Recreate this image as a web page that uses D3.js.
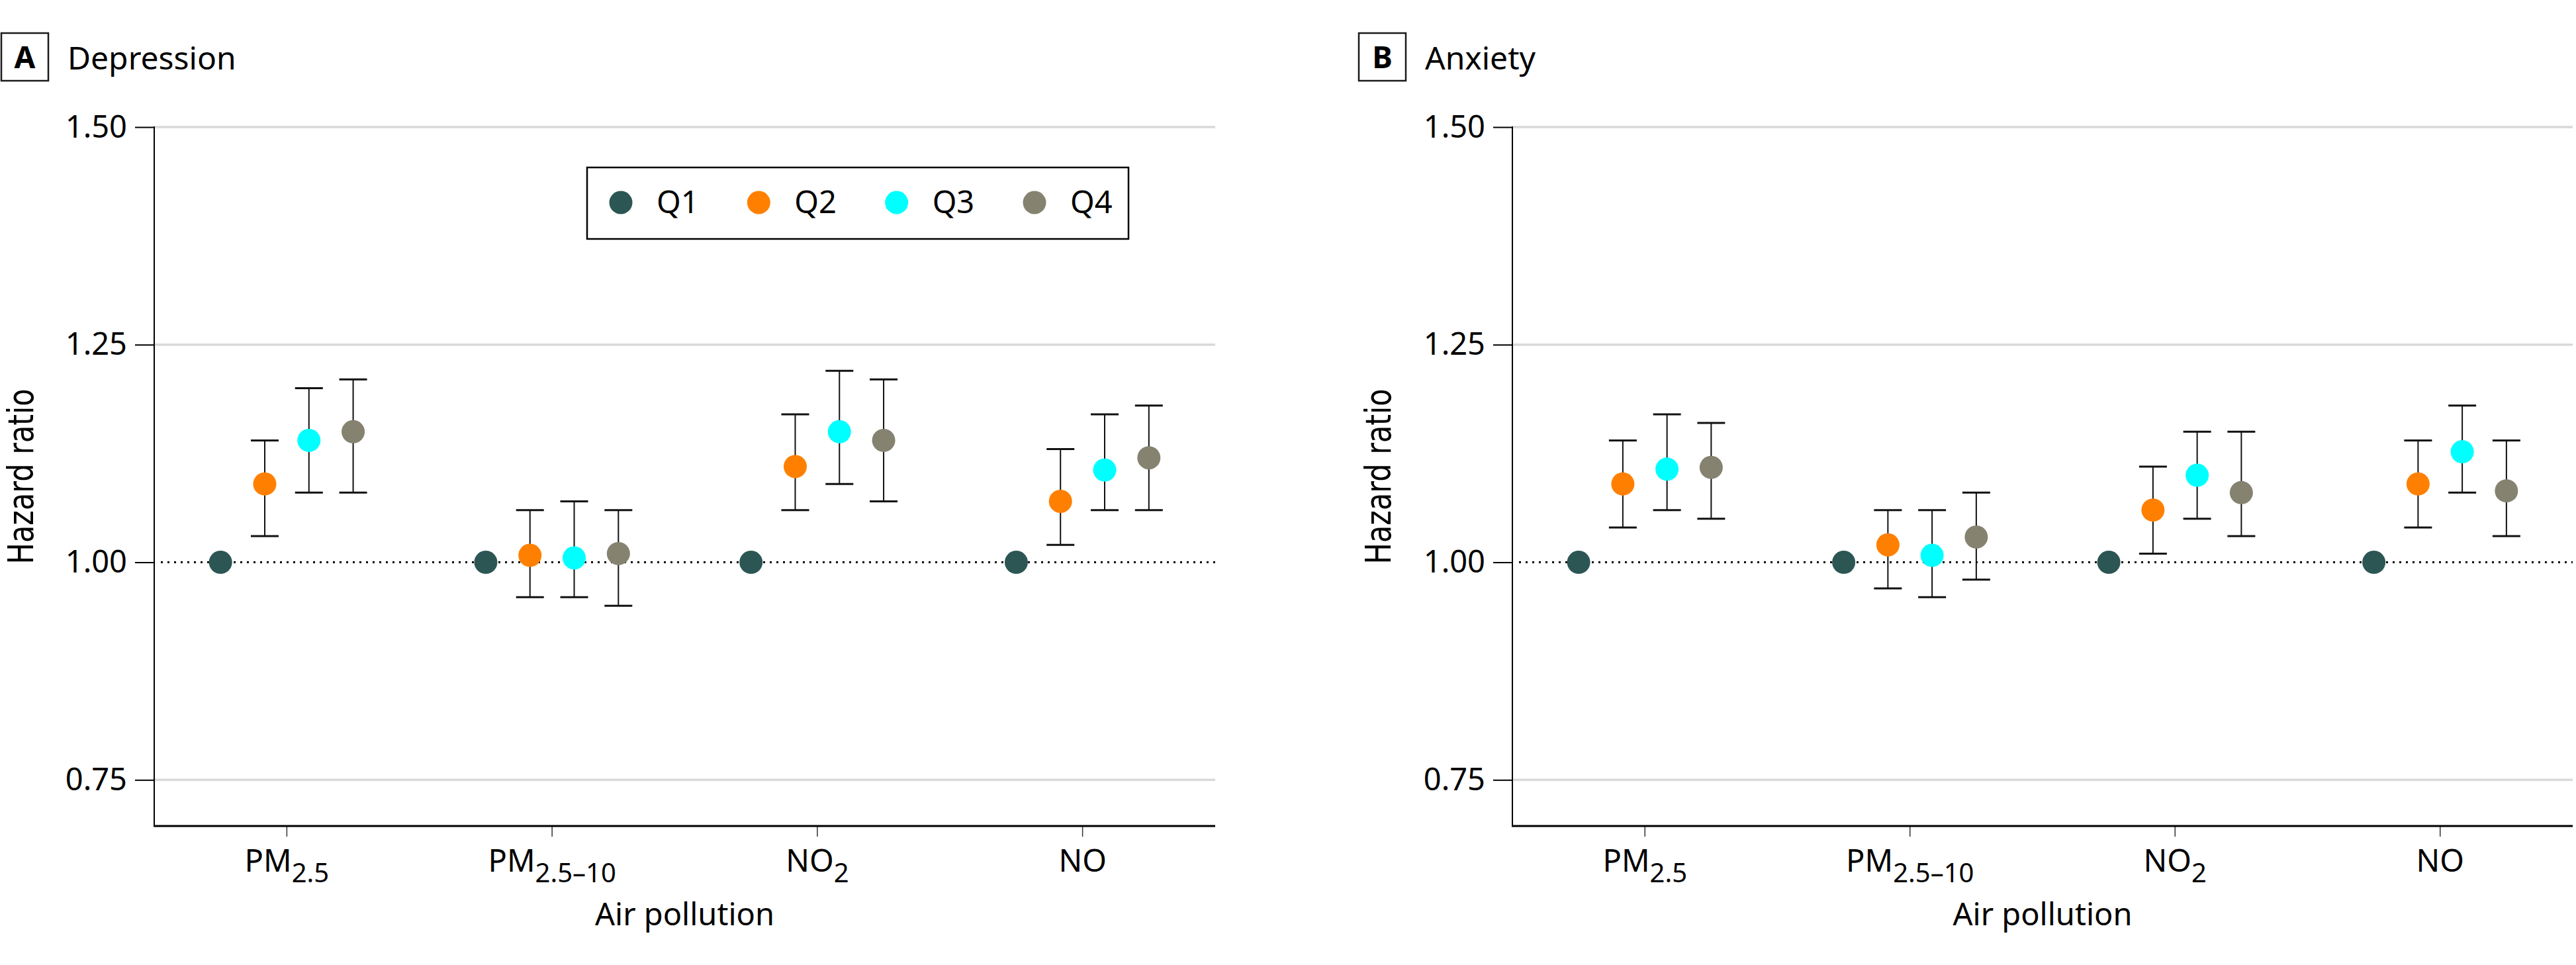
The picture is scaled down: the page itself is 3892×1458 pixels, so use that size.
<!DOCTYPE html>
<html>
<head>
<meta charset="utf-8">
<script src="https://cdn.jsdelivr.net/npm/d3@7"></script>
<style>
  html, body { margin: 0; padding: 0; background: #ffffff; }
  svg { display: block; }
  text { font-family: "Noto Sans", "Liberation Sans", sans-serif; fill: #000; }
</style>
</head>
<body>
<svg id="chart" width="3892" height="1458"></svg>
<script>
// ---------------- DATA ----------------
const categories = ["PM2.5", "PM2.5–10", "NO2", "NO"];
const categoryMain = ["PM", "PM", "NO", "NO"];
const categorySub = ["2.5", "2.5–10", "2", ""];
const quartiles = ["Q1", "Q2", "Q3", "Q4"];
const quartileColors = ["#2b5654", "#ff8000", "#00ffff", "#858270"];
const yTickValues = [0.75, 1.00, 1.25, 1.50];
const yTickLabels = ["0.75", "1.00", "1.25", "1.50"];
const gridValues = [0.75, 1.25, 1.50];

// Depression: rows = Q1..Q4, columns = categories
const depressionHR = [
  [1.00, 1.00, 1.00, 1.00],
  [1.09, 1.008, 1.11, 1.07],
  [1.14, 1.005, 1.15, 1.106],
  [1.15, 1.01, 1.14, 1.12]
];
const depressionLower = [
  [null, null, null, null],
  [1.03, 0.96, 1.06, 1.02],
  [1.08, 0.96, 1.09, 1.06],
  [1.08, 0.95, 1.07, 1.06]
];
const depressionUpper = [
  [null, null, null, null],
  [1.14, 1.06, 1.17, 1.13],
  [1.20, 1.07, 1.22, 1.17],
  [1.21, 1.06, 1.21, 1.18]
];

// Anxiety
const anxietyHR = [
  [1.00, 1.00, 1.00, 1.00],
  [1.09, 1.02, 1.06, 1.09],
  [1.107, 1.008, 1.10, 1.127],
  [1.109, 1.029, 1.08, 1.082]
];
const anxietyLower = [
  [null, null, null, null],
  [1.04, 0.97, 1.01, 1.04],
  [1.06, 0.96, 1.05, 1.08],
  [1.05, 0.98, 1.03, 1.03]
];
const anxietyUpper = [
  [null, null, null, null],
  [1.14, 1.06, 1.11, 1.14],
  [1.17, 1.06, 1.15, 1.18],
  [1.16, 1.08, 1.15, 1.14]
];

const panels = [
  { letter: "A", title: "Depression", hr: depressionHR, lo: depressionLower, hi: depressionUpper,
    left: 233, right: 1836, legend: true, boxX: 2, titleX: 102, yLabelX: 50 },
  { letter: "B", title: "Anxiety", hr: anxietyHR, lo: anxietyLower, hi: anxietyUpper,
    left: 2285, right: 3887, legend: false, boxX: 2053, titleX: 2153, yLabelX: 2101 }
];

// ---------------- LAYOUT ----------------
const plotTop = 192, plotBottom = 1248;
const yMin = 0.697, yMax = 1.50;
const svg = d3.select("#chart");
const fontSize = 47;

const y = d3.scaleLinear().domain([yMin, yMax]).range([plotBottom, plotTop]);

panels.forEach(p => {
  const g = svg.append("g");
  const x = d3.scaleBand().domain(categories).range([p.left, p.right]).paddingInner(0).paddingOuter(0);
  const step = x.step();
  const xq = d3.scalePoint().domain(quartiles).range([-0.25 * step, 0.25 * step]);
  const cx = (ci, qi) => x(categories[ci]) + step / 2 + xq(quartiles[qi]);

  // Title
  g.append("rect").attr("x", p.boxX).attr("y", 50).attr("width", 71).attr("height", 72)
    .attr("fill", "none").attr("stroke", "#1a1a1a").attr("stroke-width", 2.5);
  g.append("text").attr("x", p.boxX + 35.5).attr("y", 103).attr("text-anchor", "middle")
    .style("font-weight", "bold").style("font-size", "46px").text(p.letter);
  g.append("text").attr("x", p.titleX).attr("y", 105).style("font-size", "48px").text(p.title);

  // Gridlines
  g.selectAll(".grid").data(gridValues).enter().append("line")
    .attr("x1", p.left).attr("x2", p.right)
    .attr("y1", d => y(d)).attr("y2", d => y(d))
    .attr("stroke", "#d9d9d9").attr("stroke-width", 3.5);

  // Reference dotted line at 1.00
  g.append("line").attr("x1", p.left + 10).attr("x2", p.right)
    .attr("y1", y(1)).attr("y2", y(1))
    .attr("stroke", "#000").attr("stroke-width", 3).attr("stroke-dasharray", "3,7");

  // Y axis
  const yAxis = d3.axisLeft(y).tickValues(yTickValues)
    .tickFormat((d, i) => yTickLabels[i]).tickSize(29).tickPadding(12);
  const ya = g.append("g").attr("transform", `translate(${p.left},0)`).call(yAxis);
  ya.select(".domain").remove();
  ya.selectAll(".tick line").attr("stroke", "#000").attr("stroke-width", 2);
  ya.selectAll(".tick text").style("font-size", fontSize + "px")
    .style("font-family", '"Noto Sans", "Liberation Sans", sans-serif').attr("fill", "#000");
  g.append("line").attr("x1", p.left).attr("x2", p.left).attr("y1", y(yMax) - 1).attr("y2", plotBottom)
    .attr("stroke", "#000").attr("stroke-width", 2);

  // X axis
  const xAxis = d3.axisBottom(x).tickSize(16).tickFormat("");
  const xa = g.append("g").attr("transform", `translate(0,${plotBottom})`).call(xAxis);
  xa.select(".domain").remove();
  xa.selectAll(".tick line").attr("stroke", "#333").attr("stroke-width", 1.5);
  g.append("line").attr("x1", p.left - 1).attr("x2", p.right).attr("y1", plotBottom).attr("y2", plotBottom)
    .attr("stroke", "#000").attr("stroke-width", 3);

  // X tick labels with subscripts
  categories.forEach((c, i) => {
    const t = g.append("text").attr("x", x(c) + step / 2).attr("y", 1317)
      .attr("text-anchor", "middle").style("font-size", fontSize + "px");
    t.append("tspan").text(categoryMain[i]);
    if (categorySub[i]) t.append("tspan").attr("dy", 16).style("font-size", "40px").text(categorySub[i]);
  });

  // Axis titles
  g.append("text").attr("x", (p.left + p.right) / 2).attr("y", 1398).attr("text-anchor", "middle")
    .style("font-size", fontSize + "px").text("Air pollution");
  const yl = g.append("text")
    .attr("text-anchor", "middle")
    .style("font-family", '"DejaVu Sans", sans-serif').style("font-size", "54px")
    .text("Hazard ratio");
  const len = yl.node().getComputedTextLength();
  const sx = 265 / len;
  yl.attr("transform", `translate(${p.yLabelX},${(plotTop + plotBottom) / 2}) rotate(-90) scale(${sx},1)`);

  // Error bars & points
  const capHalf = 21;
  quartiles.forEach((q, qi) => {
    categories.forEach((c, ci) => {
      const lo = p.lo[qi][ci], hi = p.hi[qi][ci];
      const xx = cx(ci, qi);
      if (lo !== null && hi !== null) {
        g.append("line").attr("x1", xx).attr("x2", xx).attr("y1", y(hi)).attr("y2", y(lo))
          .attr("stroke", "#111").attr("stroke-width", 2);
        [lo, hi].forEach(v => {
          g.append("line").attr("x1", xx - capHalf).attr("x2", xx + capHalf)
            .attr("y1", y(v)).attr("y2", y(v)).attr("stroke", "#111").attr("stroke-width", 3);
        });
      }
    });
  });
  quartiles.forEach((q, qi) => {
    g.selectAll(".pt-" + q).data(p.hr[qi]).enter().append("circle")
      .attr("cx", (d, ci) => cx(ci, qi)).attr("cy", d => y(d)).attr("r", 17.5)
      .attr("fill", quartileColors[qi]);
  });

  // Legend
  if (p.legend) {
    const lg = g.append("g");
    lg.append("rect").attr("x", 887).attr("y", 253).attr("width", 818).attr("height", 108)
      .attr("fill", "#fff").attr("stroke", "#000").attr("stroke-width", 2.5);
    const lx = d3.scalePoint().domain(quartiles).range([938, 1563]);
    quartiles.forEach((q, qi) => {
      lg.append("circle").attr("cx", lx(q)).attr("cy", 306).attr("r", 17.5).attr("fill", quartileColors[qi]);
      lg.append("text").attr("x", lx(q) + 54).attr("y", 322).style("font-size", fontSize + "px").text(q);
    });
  }
});
</script>
</body>
</html>
